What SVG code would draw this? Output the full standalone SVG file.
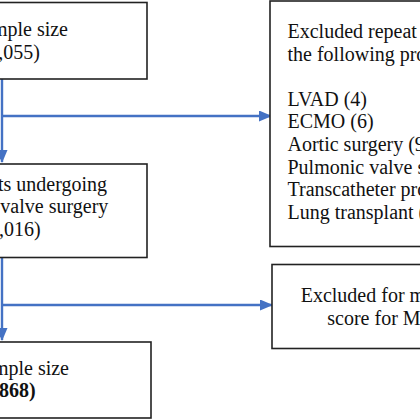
<svg xmlns="http://www.w3.org/2000/svg" width="420" height="420" viewBox="0 0 420 420">
<defs>
<style>
.box{fill:#fff;stroke:#222;stroke-width:1.6}
.t{font-family:"Liberation Serif","Times New Roman",serif;font-size:20px;fill:#111}
.b{font-weight:bold}
.c{stroke:#4472c4;stroke-width:2.4;fill:none}
</style>
<marker id="ah" markerWidth="13" markerHeight="11" refX="12" refY="5.5" orient="auto" markerUnits="userSpaceOnUse">
<path d="M0,0 L13,5.5 L0,11 Z" fill="#4472c4"/>
</marker>
</defs>
<rect width="420" height="420" fill="#fff"/>
<g id="connectors">
<path class="c" d="M2,79 V162" marker-end="url(#ah)"/>
<path class="c" d="M2,116 H271" marker-end="url(#ah)"/>
<path class="c" d="M2,257 V340" marker-end="url(#ah)"/>
<path class="c" d="M2,305 H272" marker-end="url(#ah)"/>
</g>
<g id="n1">
<rect class="box" x="-20" y="2.5" width="167" height="76.5"/>
<text class="t" x="68" y="35.5" text-anchor="end">mple size</text>
<text class="t" x="40" y="58.5" text-anchor="end">,055)</text>
</g>
<g id="n2">
<rect class="box" x="270" y="1" width="170" height="245.5"/>
<text class="t" x="287.5" y="38">Excluded repeat</text>
<text class="t" x="287.5" y="60.6">the following pro</text>
<text class="t" x="287.5" y="105.8">LVAD (4)</text>
<text class="t" x="287.5" y="128.4">ECMO (6)</text>
<text class="t" x="287.5" y="151">Aortic surgery (9</text>
<text class="t" x="287.5" y="173.6">Pulmonic valve s</text>
<text class="t" x="287.5" y="196.2">Transcatheter pro</text>
<text class="t" x="287.5" y="218.8">Lung transplant (</text>
</g>
<g id="n3">
<rect class="box" x="-20" y="164" width="167" height="93.5"/>
<text class="t" x="107" y="190.5" text-anchor="end">ts undergoing</text>
<text class="t" x="108.3" y="213" text-anchor="end">valve surgery</text>
<text class="t" x="40.7" y="235.5" text-anchor="end">,016)</text>
</g>
<g id="n4">
<rect class="box" x="-20" y="342" width="171" height="76"/>
<text class="t" x="69" y="375" text-anchor="end">mple size</text>
<text class="t b" x="35.7" y="397" text-anchor="end">868)</text>
</g>
<g id="n5">
<rect class="box" x="272" y="264.5" width="170" height="84"/>
<text class="t" x="300.7" y="302">Excluded for m</text>
<text class="t" x="327.3" y="325">score for M</text>
</g>
</svg>
